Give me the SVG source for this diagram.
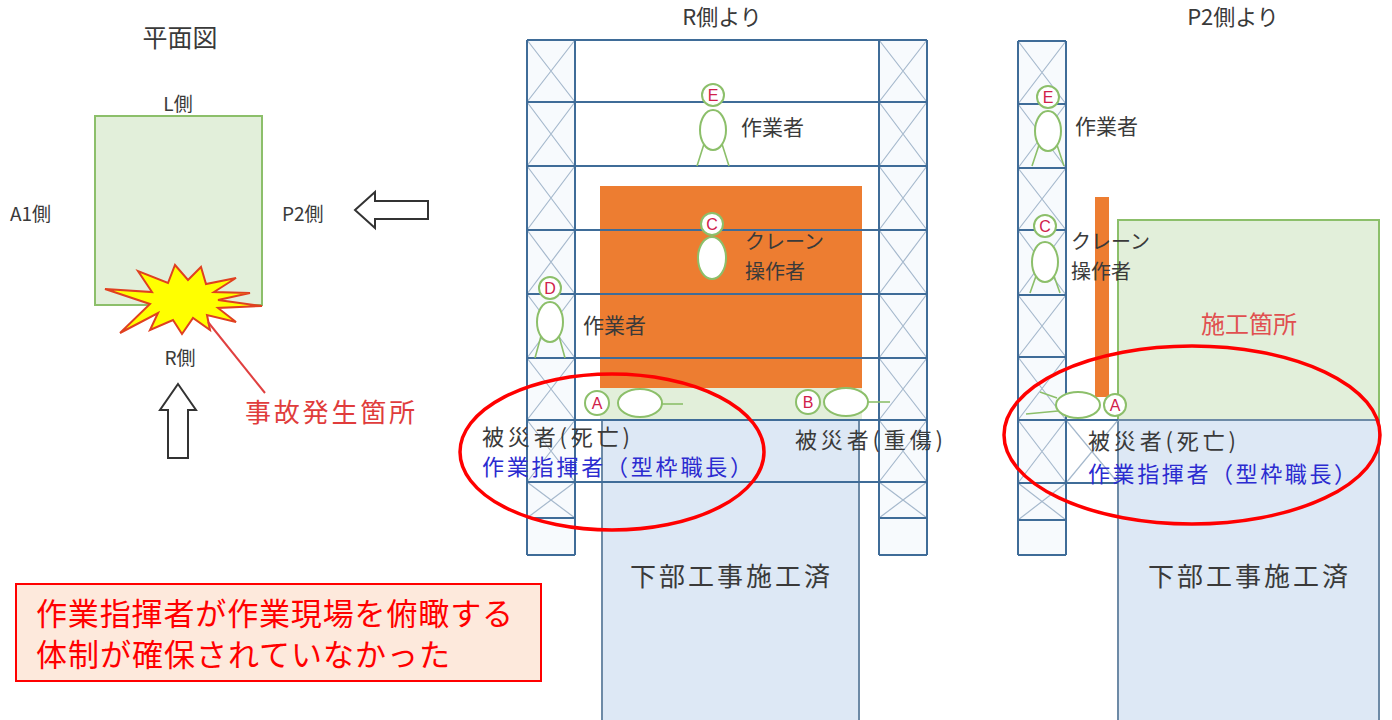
<svg xmlns="http://www.w3.org/2000/svg" width="1392" height="720" viewBox="0 0 1392 720">
  <style>
    text { font-family: "Noto Sans CJK JP", "Noto Sans", sans-serif; }
    .lbl { fill: #3a3a3a; }
    .title { fill: #3a3a3a; }
    .blue { fill: #2b2bd0; }
    .red { fill: #e03c3c; }
    .frame { fill: none; stroke: #3f6c98; stroke-width: 2; }
    .brace { fill: none; stroke: #a6b9cd; stroke-width: 1.2; }
    .tower { fill: #f7fafd; }
    .head { fill: #ffffff; stroke: #8cbf6a; stroke-width: 2; }
    .body { fill: #ffffff; stroke: #8cbf6a; stroke-width: 2; }
    .limb { fill: none; stroke: #8cbf6a; stroke-width: 1.6; }
    .tag { fill: #d0204a; font-size: 16px; font-family: "Liberation Sans", sans-serif; text-anchor: middle; }
    .ring { fill: none; stroke: #ff0000; stroke-width: 3.5; }
    .done { fill: #dde8f5; stroke: #6d8aa6; stroke-width: 2; }
    .site { fill: #e2efda; stroke: #8cbf6a; stroke-width: 2; }
    .orange { fill: #ed7d31; }
    .arrow { fill: #ffffff; stroke: #333333; stroke-width: 2; }
  </style>

  <!-- plan view -->
  <g id="plan">
    <text x="180" y="47" class="title" text-anchor="middle" font-size="25">平面図</text>
    <rect x="95" y="116" width="167" height="189" class="site"/>
    <text x="178" y="111" class="lbl" text-anchor="middle" font-size="19">L側</text>
    <text x="10" y="221" class="lbl" font-size="19">A1側</text>
    <text x="282" y="221" class="lbl" font-size="19">P2側</text>
    <text x="180" y="365" class="lbl" text-anchor="middle" font-size="19">R側</text>
    <polygon points="105,289 152,292 138,271 168,283 175,265 188,280 201,267 206,284 236,278 214,292 250,293 218,300 262,306 218,308 236,322 207,315 210,330 193,318 182,334 173,320 150,330 158,313 120,333 150,304" fill="#ffff00" stroke="#e04020" stroke-width="2"/>
    <line x1="208" y1="322" x2="265" y2="393" stroke="#e04040" stroke-width="2"/>
    <text x="245" y="422" class="red" font-size="26" textLength="170">事故発生箇所</text>
    <polygon points="178,384 196,410 188,410 188,458 168,458 168,410 160,410" class="arrow"/>
    <polygon points="355,210 375,192 375,201 428,201 428,219 375,219 375,228" class="arrow"/>
  </g>

  <!-- elevation seen from the R side -->
  <g id="view-r">
    <text x="722" y="25" class="title" text-anchor="middle" font-size="22">R側より</text>
    <rect x="527" y="40" width="48" height="515" class="tower"/>
    <rect x="879" y="40" width="48" height="515" class="tower"/>
    <rect x="575" y="40" width="304" height="62" fill="#ffffff"/>
    <rect x="600" y="186" width="262" height="202" class="orange"/>
    <rect x="600" y="388" width="262" height="32" fill="#e2efda"/>
    <rect x="602" y="420" width="257" height="310" class="done"/>
    <path class="brace" d="M527 40L575 102M575 40L527 102M527 102L575 166M575 102L527 166M527 166L575 230M575 166L527 230M527 230L575 294M575 230L527 294M527 294L575 358M575 294L527 358M527 358L575 420M575 358L527 420M527 420L575 482M575 420L527 482M527 482L575 518M575 482L527 518"/>
    <path class="brace" d="M879 40L927 102M927 40L879 102M879 102L927 166M927 102L879 166M879 166L927 230M927 166L879 230M879 230L927 294M927 230L879 294M879 294L927 358M927 294L879 358M879 358L927 420M927 358L879 420M879 420L927 482M927 420L879 482M879 482L927 518M927 482L879 518"/>
    <path class="frame" d="M527 40V555M575 40V555M879 40V555M927 40V555M527 40H927M527 102H927M527 166H927M527 230H927M527 294H927M527 358H927M527 420H927M527 482H927M527 518H575M527 555H575M879 518H927M879 555H927"/>
  </g>

  <!-- elevation seen from the P2 side -->
  <g id="view-p2">
    <text x="1233" y="25" class="title" text-anchor="middle" font-size="22">P2側より</text>
    <rect x="1018" y="41" width="48" height="514" class="tower"/>
    <rect x="1118" y="220" width="261" height="200" class="site"/>
    <rect x="1118" y="420" width="261" height="310" class="done"/>
    <rect x="1095" y="197" width="14" height="200" class="orange"/>
    <path class="brace" d="M1018 41L1066 104M1066 41L1018 104M1018 104L1066 168M1066 104L1018 168M1018 168L1066 230M1066 168L1018 230M1018 230L1066 295M1066 230L1018 295M1018 295L1066 357M1066 295L1018 357M1018 357L1066 420M1066 357L1018 420M1018 420L1066 483M1066 420L1018 483M1018 483L1066 520M1066 483L1018 520M1066 420L1118 483M1118 420L1066 483"/>
    <path class="frame" d="M1018 41V555M1066 41V555M1018 41H1066M1018 104H1066M1018 168H1066M1018 230H1066M1018 295H1066M1018 357H1066M1018 420H1118M1018 483H1118M1018 520H1066M1018 555H1066"/>
  </g>

  <!-- workers -->
  <g id="worker-e-r">
    <path class="limb" d="M704 144L697 166M722 144L729 166"/>
    <ellipse cx="713" cy="130" rx="13" ry="20" class="body"/>
    <circle cx="713" cy="95" r="11" class="head"/>
    <text x="713" y="101" class="tag">E</text>
    <text x="741" y="135" class="lbl" font-size="21">作業者</text>
  </g>
  <g id="worker-c-r">
    <ellipse cx="712" cy="258" rx="14" ry="21" class="body"/>
    <circle cx="712" cy="224" r="11" class="head"/>
    <text x="712" y="230" class="tag">C</text>
    <text x="745" y="249" class="lbl" font-size="20">クレーン</text>
    <text x="745" y="279" class="lbl" font-size="20">操作者</text>
  </g>
  <g id="worker-d">
    <path class="limb" d="M541 336L535 358M559 336L565 358"/>
    <ellipse cx="550" cy="322" rx="13" ry="20" class="body"/>
    <circle cx="550" cy="288" r="11" class="head"/>
    <text x="550" y="294" class="tag">D</text>
    <text x="583" y="333" class="lbl" font-size="21">作業者</text>
  </g>
  <g id="victim-a-r">
    <line x1="662" y1="404" x2="683" y2="404" class="limb"/>
    <ellipse cx="640" cy="403" rx="22" ry="14" class="body"/>
    <circle cx="597" cy="403" r="12" class="head"/>
    <text x="597" y="409" class="tag">A</text>
    <text x="482" y="445" class="lbl" font-size="22" textLength="148">被災者(死亡)</text>
    <text x="482" y="475" class="blue" font-size="22" textLength="270">作業指揮者（型枠職長）</text>
  </g>
  <g id="victim-b">
    <line x1="868" y1="402" x2="890" y2="402" class="limb"/>
    <ellipse cx="846" cy="402" rx="22" ry="14" class="body"/>
    <circle cx="808" cy="402" r="12" class="head"/>
    <text x="808" y="408" class="tag">B</text>
    <text x="795" y="448" class="lbl" font-size="22" textLength="148">被災者(重傷)</text>
  </g>
  <g id="worker-e-p2">
    <path class="limb" d="M1039 145L1032 166M1057 145L1064 166"/>
    <ellipse cx="1048" cy="131" rx="13" ry="20" class="body"/>
    <circle cx="1048" cy="97" r="11" class="head"/>
    <text x="1048" y="103" class="tag">E</text>
    <text x="1075" y="134" class="lbl" font-size="21">作業者</text>
  </g>
  <g id="worker-c-p2">
    <path class="limb" d="M1036 276L1030 293M1054 276L1060 293"/>
    <ellipse cx="1045" cy="262" rx="13" ry="20" class="body"/>
    <circle cx="1045" cy="226" r="11" class="head"/>
    <text x="1045" y="232" class="tag">C</text>
    <text x="1071" y="249" class="lbl" font-size="20">クレーン</text>
    <text x="1071" y="279" class="lbl" font-size="20">操作者</text>
  </g>
  <g id="victim-a-p2">
    <path class="limb" d="M1057 398L1040 392M1058 411L1026 414"/>
    <ellipse cx="1078" cy="405" rx="22" ry="13" class="body"/>
    <circle cx="1115" cy="405" r="11" class="head"/>
    <text x="1115" y="411" class="tag">A</text>
    <text x="1088" y="449" class="lbl" font-size="22" textLength="148">被災者(死亡)</text>
    <text x="1088" y="482" class="blue" font-size="22" textLength="268">作業指揮者（型枠職長）</text>
  </g>

  <!-- area labels -->
  <g id="labels">
    <text x="1249" y="333" font-size="24" text-anchor="middle" fill="#e05050">施工箇所</text>
    <text x="630" y="586" class="lbl" font-size="26" textLength="200">下部工事施工済</text>
    <text x="1148" y="586" class="lbl" font-size="26" textLength="200">下部工事施工済</text>
  </g>

  <!-- highlight rings -->
  <g id="rings">
    <ellipse cx="612" cy="452" rx="152" ry="78" class="ring"/>
    <ellipse cx="1192" cy="435" rx="188" ry="89" class="ring"/>
  </g>

  <!-- finding -->
  <g id="finding">
    <rect x="16" y="584" width="525" height="97" fill="#fde9dc" stroke="#ff0000" stroke-width="2"/>
    <text x="36" y="625" font-size="31" fill="#ff0000" textLength="477">作業指揮者が作業現場を俯瞰する</text>
    <text x="36" y="666" font-size="31" fill="#ff0000" textLength="414">体制が確保されていなかった</text>
  </g>
</svg>
